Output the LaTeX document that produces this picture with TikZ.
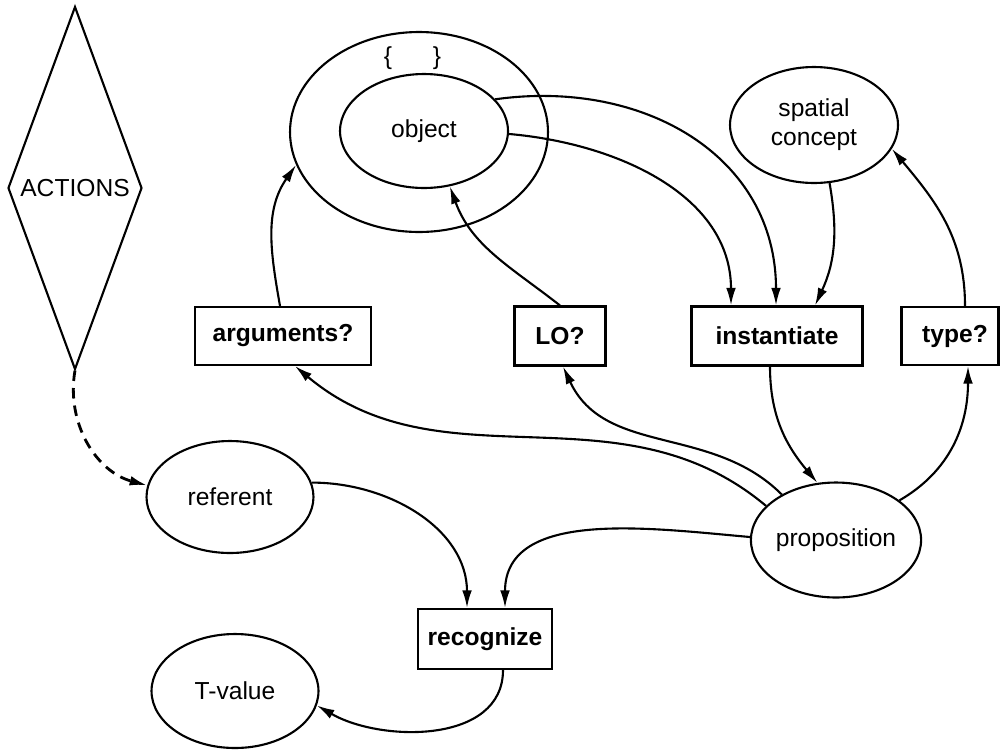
\documentclass[tikz,border=0pt]{standalone}
\usepackage{fontspec}
\setmainfont{Liberation Sans}
\usetikzlibrary{shapes.geometric,arrows.meta}
\begin{document}
\begin{tikzpicture}[x=0.02cm,y=-0.02cm,
  every node/.style={font=\fontsize{14}{16.5}\selectfont},
  ell/.style={draw,line width=1.2pt,ellipse,inner sep=0pt},
  box/.style={draw,line width=1.2pt,rectangle,inner sep=0pt,font=\fontsize{14}{16.5}\selectfont\bfseries},
  conn/.style={line width=1.2pt,-{Latex[length=10pt,width=5.5pt]}},
  dconn/.style={conn,line width=1.6pt,dash pattern=on 6pt off 4pt}]
\useasboundingbox (0,0) rectangle (1000,751);
% nodes
\node[draw,line width=1.2pt,diamond,inner sep=0pt,minimum width=2.68cm,minimum height=7.26cm] (act) at (75,188) {ACTIONS};
\node[ell,minimum width=5.16cm,minimum height=4.0cm] (outer) at (419,132) {};
\node[ell,minimum width=3.36cm,minimum height=2.28cm] (obj) at (424,131) {object};
\node (lb) at (388,58) {\{};
\node (rb) at (437,58) {\}};
\node[ell,minimum width=3.36cm,minimum height=2.32cm,align=center] (spc) at (814,125) {spatial\\concept};
\node[box,minimum width=3.52cm,minimum height=1.16cm] (args) at (283,336) {arguments?\hspace{0.28cm}};
\node[box,minimum width=1.82cm,minimum height=1.18cm] (LO) at (560,336) {LO?};
\node[box,minimum width=3.42cm,minimum height=1.18cm] (inst) at (777,336) {instantiate\hspace{0.36cm}};
\node[box,minimum width=1.94cm,minimum height=1.16cm] (type) at (950,336) {\hspace{0.2cm}type?};
\node[ell,minimum width=3.34cm,minimum height=2.24cm] (ref) at (230,497) {referent};
\node[ell,minimum width=3.34cm,minimum height=2.3cm] (prop) at (836,540) {proposition};
\node[box,minimum width=2.68cm,minimum height=1.2cm] (rec) at (485,639) {recognize};
\node[ell,minimum width=3.34cm,minimum height=2.28cm] (tv) at (235,691) {T-value};
% connectors
\draw[conn] ([xshift=-0.06cm]args.north) to[out=100,in=235] (outer.195);
\draw[conn] (LO.north) to[out=142,in=-70] (obj.295);
\draw[conn] (obj.-2) to[out=-5,in=90] ([xshift=-0.92cm]inst.north);
\draw[conn] (obj.24) to[out=8,in=90,looseness=1.1] ([xshift=-0.02cm]inst.north);
\draw[conn] (spc.285) to[out=-80,in=65] ([xshift=0.76cm]inst.north);
\draw[conn] ([xshift=0.3cm]type.north) to[out=90,in=-50] (spc.343);
\draw[conn] ([xshift=-0.14cm]inst.south) to[out=-90,in=130] (prop.108);
\draw[conn] (prop.32) to[out=30,in=-90] ([xshift=0.36cm]type.south);
\draw[conn] (prop.140) to[out=135,in=-65] ([xshift=0.06cm]LO.south);
\draw[conn] (prop.154) to[out=140,in=-40] ([xshift=0.24cm]args.south);
\draw[conn] (prop.178) to[out=175,in=90] ([xshift=0.4cm]rec.north);
\draw[conn] (ref.10) to[out=0,in=90] ([xshift=-0.36cm]rec.north);
\draw[conn] ([xshift=0.36cm]rec.south) to[out=-90,in=-30] (tv.350);
\draw[dconn] (act.south) to[out=-100,in=165] (ref.172);
\end{tikzpicture}
\end{document}
